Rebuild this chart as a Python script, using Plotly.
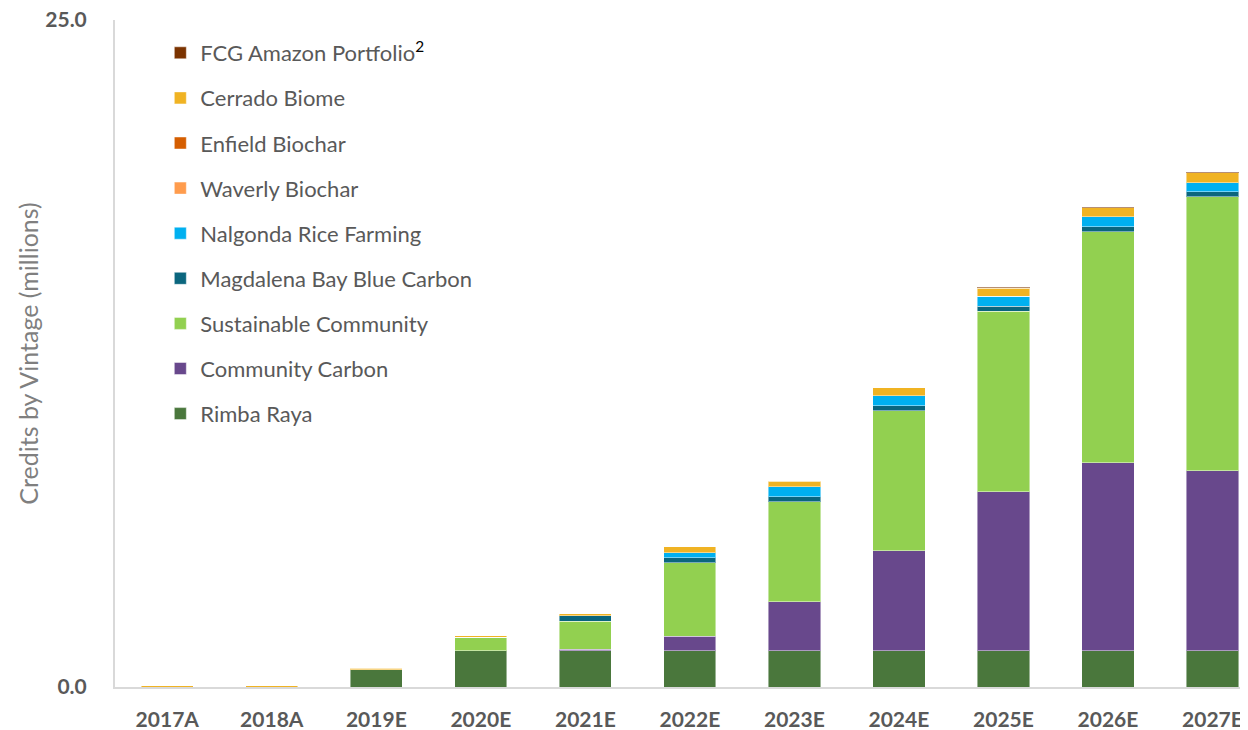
import plotly.graph_objects as go

categories = ["2017A", "2018A", "2019E", "2020E", "2021E", "2022E", "2023E", "2024E", "2025E", "2026E", "2027E"]

rimba_raya = [0.0, 0.0, 0.64, 1.35, 1.35, 1.35, 1.35, 1.35, 1.35, 1.35, 1.35]
community_carbon = [0.0, 0.0, 0.0, 0.0, 0.07, 0.56, 1.84, 3.75, 5.96, 7.05, 6.75]
sustainable_community = [0.0, 0.0, 0.0, 0.52, 1.05, 2.74, 3.75, 5.25, 6.78, 8.66, 10.27]
magdalena_bay = [0.0, 0.0, 0.0, 0.0, 0.2, 0.19, 0.19, 0.19, 0.19, 0.19, 0.19]
nalgonda_rice = [0.0, 0.0, 0.0, 0.0, 0.0, 0.19, 0.37, 0.37, 0.37, 0.37, 0.34]
waverly_biochar = [0.0, 0.0, 0.0, 0.0, 0.0, 0.0, 0.0, 0.0, 0.0, 0.0, 0.0]
enfield_biochar = [0.0, 0.0, 0.0, 0.0, 0.0, 0.0, 0.0, 0.0, 0.0, 0.0, 0.0]
cerrado_biome = [0.05, 0.05, 0.06, 0.06, 0.07, 0.22, 0.22, 0.3, 0.3, 0.34, 0.37]
fcg_amazon = [0.0, 0.0, 0.0, 0.0, 0.0, 0.0, 0.0, 0.0, 0.04, 0.04, 0.04]

y_tick_values = [0, 25]
y_tick_labels = ["0.0", "25.0"]

series = [
    ("Rimba Raya", rimba_raya, "#4a773c"),
    ("Community Carbon", community_carbon, "#68488c"),
    ("Sustainable Community", sustainable_community, "#92d050"),
    ("Magdalena Bay Blue Carbon", magdalena_bay, "#0b667e"),
    ("Nalgonda Rice Farming", nalgonda_rice, "#00b0f0"),
    ("Waverly Biochar", waverly_biochar, "#ff9c4d"),
    ("Enfield Biochar", enfield_biochar, "#d55e00"),
    ("Cerrado Biome", cerrado_biome, "#f0b323"),
    ("FCG Amazon Portfolio<span style='color:#000000'><sup>2</sup></span>", fcg_amazon, "#7b3300"),
]

fig = go.Figure()
n = len(series)
for i, (name, vals, color) in enumerate(series):
    fig.add_trace(go.Bar(
        x=categories, y=vals, name=name, legendgroup=f"g{i}",
        legendrank=100 + (n - i),
        marker=dict(color=color, line=dict(color="rgba(255,255,255,0.45)", width=1)),
    ))

font_family = "Lato, 'Open Sans', sans-serif"
fig.update_layout(
    barmode="stack",
    bargap=0.5,
    width=1240, height=722,
    margin=dict(l=107, r=0, t=12, b=43),
    plot_bgcolor="white", paper_bgcolor="white",
    font=dict(family=font_family, color="#595959"),
    legend=dict(
        x=0.04, y=0.982, xanchor="left", yanchor="top",
        traceorder="grouped", tracegroupgap=13.5,
        font=dict(size=22, color="#595959", family=font_family),
        bgcolor="rgba(0,0,0,0)",
    ),
    xaxis=dict(
        range=[-0.5, 10.34], automargin=False,
        showline=True, linecolor="#d9d9d9", linewidth=2,
        ticks="", showgrid=False,
        tickvals=categories, ticktext=[f"<b>{c}</b>" for c in categories],
        tickfont=dict(size=21, color="#595959", family=font_family),
        ticklabelstandoff=13, ticklabeloverflow="allow",
    ),
    yaxis=dict(
        range=[0, 25], automargin=False,
        tickvals=y_tick_values, ticktext=[f"<b>{t}</b>" for t in y_tick_labels],
        showline=True, linecolor="#d9d9d9", linewidth=2,
        showgrid=False, zeroline=False, ticks="",
        tickfont=dict(size=21, color="#595959", family=font_family),
        ticklabelstandoff=22, ticklabeloverflow="allow",
        title=dict(text="Credits by Vintage (millions)", font=dict(size=25, color="#7f7f7f", family=font_family), standoff=0),
    ),
)

fig.write_html("out.html")
